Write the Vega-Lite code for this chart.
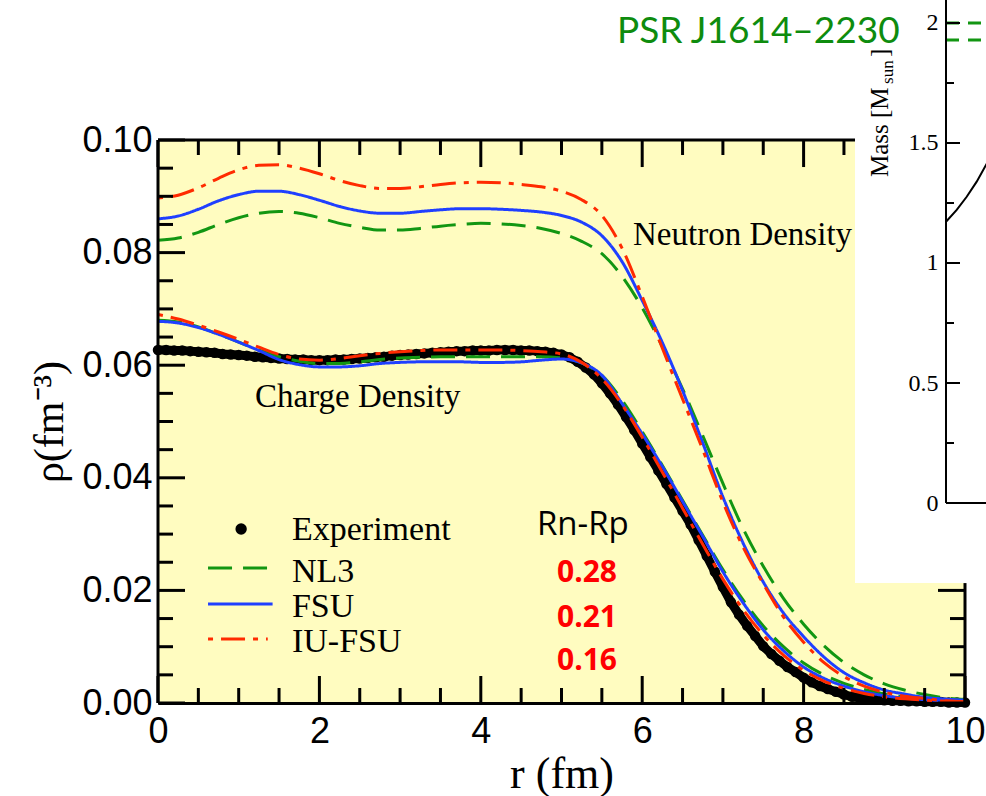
{
  "$schema": "https://vega.github.io/schema/vega-lite/v6.json",
  "width": 807,
  "height": 703,
  "autosize": {"type": "none"},
  "padding": {"left": 158, "top": 0, "right": 21, "bottom": 93},
  "background": "white",
  "config": {
    "view": {"stroke": null},
    "scale": {"continuousPadding": 0},
    "axis": {"grid": false, "labelOverlap": false, "labelFlush": false, "domainColor": "#000000", "labelColor": "#000000", "titleColor": "#000000", "zindex": 1}
  },
  "datasets": {
    "bg": [
      {"r": 0, "r2": 10, "rho": 0, "rho2": 0.0213},
      {"r": 0, "r2": 8.637, "rho": 0.0213, "rho2": 0.1}
    ],
    "frame": [
      {"r": 0, "r2": 0, "rho": 0, "rho2": 0.1},
      {"r": 0, "r2": 8.637, "rho": 0.1, "rho2": 0.1},
      {"r": 10, "r2": 10, "rho": 0, "rho2": 0.0213}
    ],
    "xMajor": [{"r":0},{"r":2},{"r":4},{"r":6},{"r":8},{"r":10}],
    "xMinor": [{"r":0.5},{"r":1},{"r":1.5},{"r":2.5},{"r":3},{"r":3.5},{"r":4.5},{"r":5},{"r":5.5},{"r":6.5},{"r":7},{"r":7.5},{"r":8.5},{"r":9},{"r":9.5}],
    "xTopMajor": [{"r":0},{"r":2},{"r":4},{"r":6},{"r":8}],
    "xTopMinor": [{"r":0.5},{"r":1},{"r":1.5},{"r":2.5},{"r":3},{"r":3.5},{"r":4.5},{"r":5},{"r":5.5},{"r":6.5},{"r":7},{"r":7.5},{"r":8.5}],
    "yMajor": [{"rho":0},{"rho":0.02},{"rho":0.04},{"rho":0.06},{"rho":0.08},{"rho":0.1}],
    "yMinor": [{"rho":0.005},{"rho":0.01},{"rho":0.015},{"rho":0.025},{"rho":0.03},{"rho":0.035},{"rho":0.045},{"rho":0.05},{"rho":0.055},{"rho":0.065},{"rho":0.07},{"rho":0.075},{"rho":0.085},{"rho":0.09},{"rho":0.095}],
    "yRightMajor": [{"rho":0},{"rho":0.02}],
    "yRightMinor": [{"rho":0.005},{"rho":0.01},{"rho":0.015}],
    "insetMajor": [{"M":0},{"M":0.5},{"M":1},{"M":1.5},{"M":2}],
    "insetMinor": [{"M":0.25},{"M":0.75},{"M":1.25},{"M":1.75}],
    "expt": [
      {"r":0.0,"rho":0.0627},{"r":0.1,"rho":0.0627},{"r":0.2,"rho":0.0626},{"r":0.3,"rho":0.0626},{"r":0.4,"rho":0.0625},{"r":0.5,"rho":0.0624},{"r":0.6,"rho":0.0623},{"r":0.7,"rho":0.0622},{"r":0.8,"rho":0.0620},{"r":0.9,"rho":0.0619},
      {"r":1.0,"rho":0.0618},{"r":1.1,"rho":0.0617},{"r":1.2,"rho":0.0615},{"r":1.3,"rho":0.0614},{"r":1.4,"rho":0.0613},{"r":1.5,"rho":0.0612},{"r":1.6,"rho":0.0611},{"r":1.7,"rho":0.0610},{"r":1.8,"rho":0.0610},{"r":1.9,"rho":0.0609},
      {"r":2.0,"rho":0.0609},{"r":2.1,"rho":0.0609},{"r":2.2,"rho":0.0610},{"r":2.3,"rho":0.0610},{"r":2.4,"rho":0.0611},{"r":2.5,"rho":0.0612},{"r":2.6,"rho":0.0613},{"r":2.7,"rho":0.0614},{"r":2.8,"rho":0.0615},{"r":2.9,"rho":0.0617},
      {"r":3.0,"rho":0.0618},{"r":3.1,"rho":0.0619},{"r":3.2,"rho":0.0620},{"r":3.3,"rho":0.0621},{"r":3.4,"rho":0.0622},{"r":3.5,"rho":0.0623},{"r":3.6,"rho":0.0624},{"r":3.7,"rho":0.0625},{"r":3.8,"rho":0.0625},{"r":3.9,"rho":0.0626},
      {"r":4.0,"rho":0.0626},{"r":4.1,"rho":0.0626},{"r":4.2,"rho":0.0627},{"r":4.3,"rho":0.0627},{"r":4.4,"rho":0.0627},{"r":4.5,"rho":0.0626},{"r":4.6,"rho":0.0626},{"r":4.7,"rho":0.0625},{"r":4.8,"rho":0.0624},{"r":4.9,"rho":0.0622},
      {"r":5.0,"rho":0.0619},{"r":5.1,"rho":0.0614},{"r":5.2,"rho":0.0606},{"r":5.3,"rho":0.0596},{"r":5.4,"rho":0.0584},{"r":5.5,"rho":0.0568},{"r":5.6,"rho":0.0550},{"r":5.7,"rho":0.0530},{"r":5.8,"rho":0.0508},{"r":5.9,"rho":0.0485},
      {"r":6.0,"rho":0.0461},{"r":6.1,"rho":0.0437},{"r":6.2,"rho":0.0413},{"r":6.3,"rho":0.0389},{"r":6.4,"rho":0.0365},{"r":6.5,"rho":0.0341},{"r":6.6,"rho":0.0317},{"r":6.7,"rho":0.0289},{"r":6.8,"rho":0.0261},{"r":6.9,"rho":0.0233},
      {"r":7.0,"rho":0.0206},{"r":7.1,"rho":0.0179},{"r":7.2,"rho":0.0157},{"r":7.3,"rho":0.0137},{"r":7.4,"rho":0.0119},{"r":7.5,"rho":0.0101},{"r":7.6,"rho":0.0087},{"r":7.7,"rho":0.0075},{"r":7.8,"rho":0.0064},{"r":7.9,"rho":0.0055},
      {"r":8.0,"rho":0.0045},{"r":8.1,"rho":0.0037},{"r":8.2,"rho":0.0030},{"r":8.3,"rho":0.0025},{"r":8.4,"rho":0.0020},{"r":8.5,"rho":0.0015},{"r":8.6,"rho":0.0011},{"r":8.7,"rho":0.0009},{"r":8.8,"rho":0.0007},{"r":8.9,"rho":0.0006},
      {"r":9.0,"rho":0.0005},{"r":9.1,"rho":0.0004},{"r":9.2,"rho":0.0004},{"r":9.3,"rho":0.0003},{"r":9.4,"rho":0.0003},{"r":9.5,"rho":0.0002},{"r":9.6,"rho":0.0002},{"r":9.7,"rho":0.0002},{"r":9.8,"rho":0.0001},{"r":9.9,"rho":0.0001},{"r":10.0,"rho":0.0001}
    ],
    "curves": [
      {"series":"NL3","part":"n","r":0,"rho":0.0822},{"series":"NL3","part":"n","r":0.25,"rho":0.0826},{"series":"NL3","part":"n","r":0.5,"rho":0.0836},{"series":"NL3","part":"n","r":0.75,"rho":0.0850},{"series":"NL3","part":"n","r":1,"rho":0.0862},{"series":"NL3","part":"n","r":1.25,"rho":0.0870},{"series":"NL3","part":"n","r":1.5,"rho":0.0873},{"series":"NL3","part":"n","r":1.75,"rho":0.0870},{"series":"NL3","part":"n","r":2,"rho":0.0862},{"series":"NL3","part":"n","r":2.25,"rho":0.0852},{"series":"NL3","part":"n","r":2.5,"rho":0.0845},{"series":"NL3","part":"n","r":2.75,"rho":0.0840},{"series":"NL3","part":"n","r":3,"rho":0.0840},{"series":"NL3","part":"n","r":3.25,"rho":0.0843},{"series":"NL3","part":"n","r":3.5,"rho":0.0847},{"series":"NL3","part":"n","r":3.75,"rho":0.0850},{"series":"NL3","part":"n","r":4,"rho":0.0852},{"series":"NL3","part":"n","r":4.25,"rho":0.0851},{"series":"NL3","part":"n","r":4.5,"rho":0.0848},{"series":"NL3","part":"n","r":4.75,"rho":0.0843},{"series":"NL3","part":"n","r":5,"rho":0.0834},{"series":"NL3","part":"n","r":5.25,"rho":0.0820},{"series":"NL3","part":"n","r":5.5,"rho":0.0798},{"series":"NL3","part":"n","r":5.75,"rho":0.0758},{"series":"NL3","part":"n","r":6,"rho":0.0702},{"series":"NL3","part":"n","r":6.25,"rho":0.0633},{"series":"NL3","part":"n","r":6.5,"rho":0.0558},{"series":"NL3","part":"n","r":6.75,"rho":0.0475},{"series":"NL3","part":"n","r":7,"rho":0.0390},{"series":"NL3","part":"n","r":7.25,"rho":0.0310},{"series":"NL3","part":"n","r":7.5,"rho":0.0243},{"series":"NL3","part":"n","r":7.75,"rho":0.0186},{"series":"NL3","part":"n","r":8,"rho":0.0140},{"series":"NL3","part":"n","r":8.25,"rho":0.0102},{"series":"NL3","part":"n","r":8.5,"rho":0.0072},{"series":"NL3","part":"n","r":8.75,"rho":0.0050},{"series":"NL3","part":"n","r":9,"rho":0.0034},{"series":"NL3","part":"n","r":9.25,"rho":0.0023},{"series":"NL3","part":"n","r":9.5,"rho":0.0015},{"series":"NL3","part":"n","r":9.75,"rho":0.0009},{"series":"NL3","part":"n","r":10,"rho":0.0006},
      {"series":"NL3","part":"c","r":0,"rho":0.0680},{"series":"NL3","part":"c","r":0.25,"rho":0.0677},{"series":"NL3","part":"c","r":0.5,"rho":0.0668},{"series":"NL3","part":"c","r":0.75,"rho":0.0655},{"series":"NL3","part":"c","r":1,"rho":0.0641},{"series":"NL3","part":"c","r":1.25,"rho":0.0627},{"series":"NL3","part":"c","r":1.5,"rho":0.0615},{"series":"NL3","part":"c","r":1.75,"rho":0.0607},{"series":"NL3","part":"c","r":2,"rho":0.0603},{"series":"NL3","part":"c","r":2.25,"rho":0.0603},{"series":"NL3","part":"c","r":2.5,"rho":0.0606},{"series":"NL3","part":"c","r":2.75,"rho":0.0610},{"series":"NL3","part":"c","r":3,"rho":0.0613},{"series":"NL3","part":"c","r":3.25,"rho":0.0614},{"series":"NL3","part":"c","r":3.5,"rho":0.0615},{"series":"NL3","part":"c","r":3.75,"rho":0.0615},{"series":"NL3","part":"c","r":4,"rho":0.0615},{"series":"NL3","part":"c","r":4.25,"rho":0.0615},{"series":"NL3","part":"c","r":4.5,"rho":0.0615},{"series":"NL3","part":"c","r":4.75,"rho":0.0615},{"series":"NL3","part":"c","r":5,"rho":0.0613},{"series":"NL3","part":"c","r":5.25,"rho":0.0604},{"series":"NL3","part":"c","r":5.5,"rho":0.0582},{"series":"NL3","part":"c","r":5.75,"rho":0.0538},{"series":"NL3","part":"c","r":6,"rho":0.0482},{"series":"NL3","part":"c","r":6.25,"rho":0.0422},{"series":"NL3","part":"c","r":6.5,"rho":0.0360},{"series":"NL3","part":"c","r":6.75,"rho":0.0298},{"series":"NL3","part":"c","r":7,"rho":0.0237},{"series":"NL3","part":"c","r":7.25,"rho":0.0183},{"series":"NL3","part":"c","r":7.5,"rho":0.0137},{"series":"NL3","part":"c","r":7.75,"rho":0.0100},{"series":"NL3","part":"c","r":8,"rho":0.0071},{"series":"NL3","part":"c","r":8.25,"rho":0.0050},{"series":"NL3","part":"c","r":8.5,"rho":0.0035},{"series":"NL3","part":"c","r":8.75,"rho":0.0024},{"series":"NL3","part":"c","r":9,"rho":0.0016},{"series":"NL3","part":"c","r":9.5,"rho":0.0007},{"series":"NL3","part":"c","r":10,"rho":0.0003},
      {"series":"FSU","part":"n","r":0,"rho":0.0860},{"series":"FSU","part":"n","r":0.25,"rho":0.0865},{"series":"FSU","part":"n","r":0.5,"rho":0.0877},{"series":"FSU","part":"n","r":0.75,"rho":0.0892},{"series":"FSU","part":"n","r":1,"rho":0.0903},{"series":"FSU","part":"n","r":1.25,"rho":0.0909},{"series":"FSU","part":"n","r":1.5,"rho":0.0909},{"series":"FSU","part":"n","r":1.75,"rho":0.0903},{"series":"FSU","part":"n","r":2,"rho":0.0893},{"series":"FSU","part":"n","r":2.25,"rho":0.0882},{"series":"FSU","part":"n","r":2.5,"rho":0.0874},{"series":"FSU","part":"n","r":2.75,"rho":0.0870},{"series":"FSU","part":"n","r":3,"rho":0.0870},{"series":"FSU","part":"n","r":3.25,"rho":0.0873},{"series":"FSU","part":"n","r":3.5,"rho":0.0876},{"series":"FSU","part":"n","r":3.75,"rho":0.0878},{"series":"FSU","part":"n","r":4,"rho":0.0878},{"series":"FSU","part":"n","r":4.25,"rho":0.0877},{"series":"FSU","part":"n","r":4.5,"rho":0.0875},{"series":"FSU","part":"n","r":4.75,"rho":0.0872},{"series":"FSU","part":"n","r":5,"rho":0.0866},{"series":"FSU","part":"n","r":5.25,"rho":0.0854},{"series":"FSU","part":"n","r":5.5,"rho":0.0830},{"series":"FSU","part":"n","r":5.75,"rho":0.0784},{"series":"FSU","part":"n","r":6,"rho":0.0715},{"series":"FSU","part":"n","r":6.25,"rho":0.0640},{"series":"FSU","part":"n","r":6.5,"rho":0.0555},{"series":"FSU","part":"n","r":6.75,"rho":0.0462},{"series":"FSU","part":"n","r":7,"rho":0.0366},{"series":"FSU","part":"n","r":7.25,"rho":0.0284},{"series":"FSU","part":"n","r":7.5,"rho":0.0215},{"series":"FSU","part":"n","r":7.75,"rho":0.0160},{"series":"FSU","part":"n","r":8,"rho":0.0118},{"series":"FSU","part":"n","r":8.25,"rho":0.0082},{"series":"FSU","part":"n","r":8.5,"rho":0.0054},{"series":"FSU","part":"n","r":8.75,"rho":0.0036},{"series":"FSU","part":"n","r":9,"rho":0.0023},{"series":"FSU","part":"n","r":9.25,"rho":0.0016},{"series":"FSU","part":"n","r":9.5,"rho":0.0010},{"series":"FSU","part":"n","r":9.75,"rho":0.0007},{"series":"FSU","part":"n","r":10,"rho":0.0005},
      {"series":"FSU","part":"c","r":0,"rho":0.0678},{"series":"FSU","part":"c","r":0.25,"rho":0.0675},{"series":"FSU","part":"c","r":0.5,"rho":0.0667},{"series":"FSU","part":"c","r":0.75,"rho":0.0655},{"series":"FSU","part":"c","r":1,"rho":0.0641},{"series":"FSU","part":"c","r":1.25,"rho":0.0626},{"series":"FSU","part":"c","r":1.5,"rho":0.0610},{"series":"FSU","part":"c","r":1.75,"rho":0.0601},{"series":"FSU","part":"c","r":2,"rho":0.0597},{"series":"FSU","part":"c","r":2.25,"rho":0.0597},{"series":"FSU","part":"c","r":2.5,"rho":0.0599},{"series":"FSU","part":"c","r":2.75,"rho":0.0603},{"series":"FSU","part":"c","r":3,"rho":0.0605},{"series":"FSU","part":"c","r":3.25,"rho":0.0606},{"series":"FSU","part":"c","r":3.5,"rho":0.0606},{"series":"FSU","part":"c","r":3.75,"rho":0.0606},{"series":"FSU","part":"c","r":4,"rho":0.0605},{"series":"FSU","part":"c","r":4.25,"rho":0.0605},{"series":"FSU","part":"c","r":4.5,"rho":0.0606},{"series":"FSU","part":"c","r":4.75,"rho":0.0609},{"series":"FSU","part":"c","r":5,"rho":0.0611},{"series":"FSU","part":"c","r":5.25,"rho":0.0604},{"series":"FSU","part":"c","r":5.5,"rho":0.0582},{"series":"FSU","part":"c","r":5.75,"rho":0.0532},{"series":"FSU","part":"c","r":6,"rho":0.0478},{"series":"FSU","part":"c","r":6.25,"rho":0.0420},{"series":"FSU","part":"c","r":6.5,"rho":0.0358},{"series":"FSU","part":"c","r":6.75,"rho":0.0296},{"series":"FSU","part":"c","r":7,"rho":0.0233},{"series":"FSU","part":"c","r":7.25,"rho":0.0178},{"series":"FSU","part":"c","r":7.5,"rho":0.0130},{"series":"FSU","part":"c","r":7.75,"rho":0.0093},{"series":"FSU","part":"c","r":8,"rho":0.0064},{"series":"FSU","part":"c","r":8.25,"rho":0.0044},{"series":"FSU","part":"c","r":8.5,"rho":0.0030},{"series":"FSU","part":"c","r":8.75,"rho":0.0020},{"series":"FSU","part":"c","r":9,"rho":0.0013},{"series":"FSU","part":"c","r":9.5,"rho":0.0006},{"series":"FSU","part":"c","r":10,"rho":0.0003},
      {"series":"IU-FSU","part":"n","r":0,"rho":0.0897},{"series":"IU-FSU","part":"n","r":0.25,"rho":0.0902},{"series":"IU-FSU","part":"n","r":0.5,"rho":0.0915},{"series":"IU-FSU","part":"n","r":0.75,"rho":0.0932},{"series":"IU-FSU","part":"n","r":1,"rho":0.0947},{"series":"IU-FSU","part":"n","r":1.25,"rho":0.0955},{"series":"IU-FSU","part":"n","r":1.5,"rho":0.0956},{"series":"IU-FSU","part":"n","r":1.75,"rho":0.0950},{"series":"IU-FSU","part":"n","r":2,"rho":0.0940},{"series":"IU-FSU","part":"n","r":2.25,"rho":0.0928},{"series":"IU-FSU","part":"n","r":2.5,"rho":0.0919},{"series":"IU-FSU","part":"n","r":2.75,"rho":0.0914},{"series":"IU-FSU","part":"n","r":3,"rho":0.0914},{"series":"IU-FSU","part":"n","r":3.25,"rho":0.0917},{"series":"IU-FSU","part":"n","r":3.5,"rho":0.0921},{"series":"IU-FSU","part":"n","r":3.75,"rho":0.0924},{"series":"IU-FSU","part":"n","r":4,"rho":0.0925},{"series":"IU-FSU","part":"n","r":4.25,"rho":0.0924},{"series":"IU-FSU","part":"n","r":4.5,"rho":0.0921},{"series":"IU-FSU","part":"n","r":4.75,"rho":0.0917},{"series":"IU-FSU","part":"n","r":5,"rho":0.0909},{"series":"IU-FSU","part":"n","r":5.25,"rho":0.0894},{"series":"IU-FSU","part":"n","r":5.5,"rho":0.0866},{"series":"IU-FSU","part":"n","r":5.75,"rho":0.0808},{"series":"IU-FSU","part":"n","r":6,"rho":0.0722},{"series":"IU-FSU","part":"n","r":6.25,"rho":0.0630},{"series":"IU-FSU","part":"n","r":6.5,"rho":0.0540},{"series":"IU-FSU","part":"n","r":6.75,"rho":0.0450},{"series":"IU-FSU","part":"n","r":7,"rho":0.0357},{"series":"IU-FSU","part":"n","r":7.25,"rho":0.0277},{"series":"IU-FSU","part":"n","r":7.5,"rho":0.0212},{"series":"IU-FSU","part":"n","r":7.75,"rho":0.0153},{"series":"IU-FSU","part":"n","r":8,"rho":0.0108},{"series":"IU-FSU","part":"n","r":8.25,"rho":0.0072},{"series":"IU-FSU","part":"n","r":8.5,"rho":0.0047},{"series":"IU-FSU","part":"n","r":8.75,"rho":0.0030},{"series":"IU-FSU","part":"n","r":9,"rho":0.0019},{"series":"IU-FSU","part":"n","r":9.25,"rho":0.0012},{"series":"IU-FSU","part":"n","r":9.5,"rho":0.0008},{"series":"IU-FSU","part":"n","r":9.75,"rho":0.0004},{"series":"IU-FSU","part":"n","r":10,"rho":0.0002},
      {"series":"IU-FSU","part":"c","r":0,"rho":0.0690},{"series":"IU-FSU","part":"c","r":0.25,"rho":0.0682},{"series":"IU-FSU","part":"c","r":0.5,"rho":0.0671},{"series":"IU-FSU","part":"c","r":0.75,"rho":0.0659},{"series":"IU-FSU","part":"c","r":1,"rho":0.0646},{"series":"IU-FSU","part":"c","r":1.25,"rho":0.0632},{"series":"IU-FSU","part":"c","r":1.5,"rho":0.0619},{"series":"IU-FSU","part":"c","r":1.75,"rho":0.0611},{"series":"IU-FSU","part":"c","r":2,"rho":0.0609},{"series":"IU-FSU","part":"c","r":2.25,"rho":0.0612},{"series":"IU-FSU","part":"c","r":2.5,"rho":0.0617},{"series":"IU-FSU","part":"c","r":2.75,"rho":0.0621},{"series":"IU-FSU","part":"c","r":3,"rho":0.0624},{"series":"IU-FSU","part":"c","r":3.25,"rho":0.0626},{"series":"IU-FSU","part":"c","r":3.5,"rho":0.0627},{"series":"IU-FSU","part":"c","r":3.75,"rho":0.0627},{"series":"IU-FSU","part":"c","r":4,"rho":0.0627},{"series":"IU-FSU","part":"c","r":4.25,"rho":0.0627},{"series":"IU-FSU","part":"c","r":4.5,"rho":0.0626},{"series":"IU-FSU","part":"c","r":4.75,"rho":0.0624},{"series":"IU-FSU","part":"c","r":5,"rho":0.0620},{"series":"IU-FSU","part":"c","r":5.25,"rho":0.0605},{"series":"IU-FSU","part":"c","r":5.5,"rho":0.0576},{"series":"IU-FSU","part":"c","r":5.75,"rho":0.0530},{"series":"IU-FSU","part":"c","r":6,"rho":0.0472},{"series":"IU-FSU","part":"c","r":6.25,"rho":0.0410},{"series":"IU-FSU","part":"c","r":6.5,"rho":0.0346},{"series":"IU-FSU","part":"c","r":6.75,"rho":0.0282},{"series":"IU-FSU","part":"c","r":7,"rho":0.0220},{"series":"IU-FSU","part":"c","r":7.25,"rho":0.0166},{"series":"IU-FSU","part":"c","r":7.5,"rho":0.0121},{"series":"IU-FSU","part":"c","r":7.75,"rho":0.0085},{"series":"IU-FSU","part":"c","r":8,"rho":0.0058},{"series":"IU-FSU","part":"c","r":8.25,"rho":0.0039},{"series":"IU-FSU","part":"c","r":8.5,"rho":0.0026},{"series":"IU-FSU","part":"c","r":8.75,"rho":0.0017},{"series":"IU-FSU","part":"c","r":9,"rho":0.0011},{"series":"IU-FSU","part":"c","r":9.5,"rho":0.0005},{"series":"IU-FSU","part":"c","r":10,"rho":0.0002}
    ],
    "legLines": [
      {"series":"NL3","r":0.62,"rho":0.02398},{"series":"NL3","r":1.39,"rho":0.02398},
      {"series":"FSU","r":0.62,"rho":0.01758},{"series":"FSU","r":1.42,"rho":0.01758},
      {"series":"IU-FSU","r":0.62,"rho":0.01137},{"series":"IU-FSU","r":1.36,"rho":0.01137}
    ],
    "legDot": [{"r": 1.03, "rho": 0.0309}],
    "labelsRegion": [
      {"r": 5.886, "rho": 0.08135, "label": "Neutron Density"},
      {"r": 1.202, "rho": 0.05258, "label": "Charge Density"}
    ],
    "labelsLegend": [
      {"r": 1.66, "rho": 0.02895, "label": "Experiment"},
      {"r": 1.66, "rho": 0.02149, "label": "NL3"},
      {"r": 1.66, "rho": 0.01528, "label": "FSU"},
      {"r": 1.66, "rho": 0.00906, "label": "IU-FSU"}
    ],
    "labelRnRp": [{"r": 4.696, "rho": 0.02984, "label": "Rn-Rp"}],
    "labelsSkin": [
      {"r": 5.316, "rho": 0.02149, "label": "0.28"},
      {"r": 5.316, "rho": 0.0135, "label": "0.21"},
      {"r": 5.316, "rho": 0.00586, "label": "0.16"}
    ],
    "mrCurve": [
      {"R": 8.0, "M": 1.172}, {"R": 8.107, "M": 1.221}, {"R": 8.207, "M": 1.276}, {"R": 8.307, "M": 1.339}, {"R": 8.4, "M": 1.408}, {"R": 8.45, "M": 1.445}
    ],
    "psr": [
      {"R": 8.0, "R2": 8.45, "M": 2.0},
      {"R": 8.0, "R2": 8.45, "M": 1.929}
    ],
    "insetFrame": [
      {"R": 8.0, "R2": 8.0, "M": 0, "M2": 2.09583},
      {"R": 8.0, "R2": 8.45, "M": 0, "M2": 0}
    ],
    "psrLabel": [{"R": 4.71, "M": 1.9167, "label": "PSR J1614–2230"}],
    "massLabel": [
      {"R": 7.42, "M": 1.3583, "label": "Mass [M"},
      {"R": 7.42, "M": 1.858, "label": "]"}
    ],
    "massSub": [{"R": 7.47, "M": 1.746, "label": "sun"}]
  },
  "layer": [
    {
      "resolve": {"axis": {"x": "independent", "y": "independent"}},
      "layer": [
        {
          "data": {"name": "bg"},
          "mark": {"type": "rect", "fill": "#fffcc0", "stroke": null},
          "encoding": {
            "x": {"field": "r", "type": "quantitative", "scale": {"domain": [0, 10], "nice": false, "zero": false, "padding": 0},
              "axis": {"orient": "bottom", "values": [0, 2, 4, 6, 8, 10], "format": "d", "ticks": false, "tickSize": 0, "domain": true, "domainWidth": 3, "labelFont": "Liberation Sans", "labelFontSize": 36, "labelPadding": 39, "labelBaseline": "alphabetic", "labelAlign": "center", "title": "r (fm)", "titleFont": "Liberation Serif", "titleFontSize": 44, "titleFontWeight": "normal", "titleX": 403.5, "titleY": 84, "titleBaseline": "alphabetic", "titleAlign": "center", "zindex": 2}},
            "x2": {"field": "r2"},
            "y": {"field": "rho", "type": "quantitative", "scale": {"domain": [0, 0.12487], "nice": false, "zero": false, "padding": 0},
              "axis": {"orient": "left", "values": [0, 0.02, 0.04, 0.06, 0.08, 0.1], "format": ".2f", "ticks": false, "tickSize": 0, "domain": false, "labelFont": "Liberation Sans", "labelFontSize": 36, "labelPadding": 6, "labelBaseline": "middle", "labelAlign": "right", "title": "ρ(fm⁻³)", "titleFont": "Liberation Serif", "titleFontSize": 42, "titleFontWeight": "normal", "titleX": -96, "titleY": 421.5, "titleAngle": 270, "titleBaseline": "alphabetic", "titleAlign": "center", "zindex": 2}},
            "y2": {"field": "rho2"}
          }
        },
        {
          "data": {"name": "expt"},
          "mark": {"type": "line", "color": "black", "strokeWidth": 9},
          "encoding": {
            "x": {"field": "r", "type": "quantitative", "scale": {"domain": [0, 10], "nice": false, "zero": false, "padding": 0}, "axis": null},
            "y": {"field": "rho", "type": "quantitative", "scale": {"domain": [0, 0.12487], "nice": false, "zero": false, "padding": 0}, "axis": null}
          }
        },
        {
          "data": {"name": "expt"},
          "mark": {"type": "point", "filled": true, "color": "black", "size": 110, "opacity": 1},
          "encoding": {
            "x": {"field": "r", "type": "quantitative", "scale": {"domain": [0, 10], "nice": false, "zero": false, "padding": 0}, "axis": null},
            "y": {"field": "rho", "type": "quantitative", "scale": {"domain": [0, 0.12487], "nice": false, "zero": false, "padding": 0}, "axis": null}
          }
        },
        {
          "data": {"name": "curves"},
          "mark": {"type": "line", "strokeWidth": 3, "interpolate": "monotone"},
          "encoding": {
            "x": {"field": "r", "type": "quantitative", "scale": {"domain": [0, 10], "nice": false, "zero": false, "padding": 0}, "axis": null},
            "y": {"field": "rho", "type": "quantitative", "scale": {"domain": [0, 0.12487], "nice": false, "zero": false, "padding": 0}, "axis": null},
            "color": {"field": "series", "type": "nominal", "scale": {"domain": ["NL3", "FSU", "IU-FSU"], "range": ["#129612", "#1f3fff", "#ff2a00"]}, "legend": null},
            "strokeDash": {"field": "series", "type": "nominal", "scale": {"domain": ["NL3", "FSU", "IU-FSU"], "range": [[24, 11], [1, 0], [5, 8, 24, 8]]}, "legend": null},
            "detail": {"field": "part", "type": "nominal"}
          }
        },
        {
          "data": {"name": "legLines"},
          "mark": {"type": "line", "strokeWidth": 3},
          "encoding": {
            "x": {"field": "r", "type": "quantitative", "scale": {"domain": [0, 10], "nice": false, "zero": false, "padding": 0}, "axis": null},
            "y": {"field": "rho", "type": "quantitative", "scale": {"domain": [0, 0.12487], "nice": false, "zero": false, "padding": 0}, "axis": null},
            "color": {"field": "series", "type": "nominal", "scale": {"domain": ["NL3", "FSU", "IU-FSU"], "range": ["#129612", "#1f3fff", "#ff2a00"]}, "legend": null},
            "strokeDash": {"field": "series", "type": "nominal", "scale": {"domain": ["NL3", "FSU", "IU-FSU"], "range": [[24, 11], [1, 0], [5, 8, 24, 8]]}, "legend": null}
          }
        },
        {
          "data": {"name": "legDot"},
          "mark": {"type": "point", "filled": true, "color": "black", "size": 130, "opacity": 1},
          "encoding": {
            "x": {"field": "r", "type": "quantitative", "scale": {"domain": [0, 10], "nice": false, "zero": false, "padding": 0}, "axis": null},
            "y": {"field": "rho", "type": "quantitative", "scale": {"domain": [0, 0.12487], "nice": false, "zero": false, "padding": 0}, "axis": null}
          }
        },
        {
          "data": {"name": "frame"},
          "mark": {"type": "rule", "color": "black", "strokeWidth": 3},
          "encoding": {
            "x": {"field": "r", "type": "quantitative", "scale": {"domain": [0, 10], "nice": false, "zero": false, "padding": 0}, "axis": null},
            "x2": {"field": "r2"},
            "y": {"field": "rho", "type": "quantitative", "scale": {"domain": [0, 0.12487], "nice": false, "zero": false, "padding": 0}, "axis": null},
            "y2": {"field": "rho2"}
          }
        },
        {
          "data": {"name": "xMajor"},
          "mark": {"type": "bar", "color": "black", "width": 3, "orient": "vertical"},
          "encoding": {
            "x": {"field": "r", "type": "quantitative", "scale": {"domain": [0, 10], "nice": false, "zero": false, "padding": 0}, "axis": null},
            "y": {"datum": 0, "type": "quantitative", "scale": {"domain": [0, 0.12487], "nice": false, "zero": false, "padding": 0}, "axis": null},
            "y2": {"datum": 0.0048}
          }
        },
        {
          "data": {"name": "xMinor"},
          "mark": {"type": "bar", "color": "black", "width": 3, "orient": "vertical"},
          "encoding": {
            "x": {"field": "r", "type": "quantitative", "scale": {"domain": [0, 10], "nice": false, "zero": false, "padding": 0}, "axis": null},
            "y": {"datum": 0, "type": "quantitative", "scale": {"domain": [0, 0.12487], "nice": false, "zero": false, "padding": 0}, "axis": null},
            "y2": {"datum": 0.00266}
          }
        },
        {
          "data": {"name": "xTopMajor"},
          "mark": {"type": "bar", "color": "black", "width": 3, "orient": "vertical"},
          "encoding": {
            "x": {"field": "r", "type": "quantitative", "scale": {"domain": [0, 10], "nice": false, "zero": false, "padding": 0}, "axis": null},
            "y": {"datum": 0.0952, "type": "quantitative", "scale": {"domain": [0, 0.12487], "nice": false, "zero": false, "padding": 0}, "axis": null},
            "y2": {"datum": 0.1}
          }
        },
        {
          "data": {"name": "xTopMinor"},
          "mark": {"type": "bar", "color": "black", "width": 3, "orient": "vertical"},
          "encoding": {
            "x": {"field": "r", "type": "quantitative", "scale": {"domain": [0, 10], "nice": false, "zero": false, "padding": 0}, "axis": null},
            "y": {"datum": 0.09734, "type": "quantitative", "scale": {"domain": [0, 0.12487], "nice": false, "zero": false, "padding": 0}, "axis": null},
            "y2": {"datum": 0.1}
          }
        },
        {
          "data": {"name": "yMajor"},
          "mark": {"type": "bar", "color": "black", "height": 3, "orient": "horizontal"},
          "encoding": {
            "x": {"datum": 0, "type": "quantitative", "scale": {"domain": [0, 10], "nice": false, "zero": false, "padding": 0}, "axis": null},
            "x2": {"datum": 0.3346},
            "y": {"field": "rho", "type": "quantitative", "scale": {"domain": [0, 0.12487], "nice": false, "zero": false, "padding": 0}, "axis": null}
          }
        },
        {
          "data": {"name": "yMinor"},
          "mark": {"type": "bar", "color": "black", "height": 3, "orient": "horizontal"},
          "encoding": {
            "x": {"datum": 0, "type": "quantitative", "scale": {"domain": [0, 10], "nice": false, "zero": false, "padding": 0}, "axis": null},
            "x2": {"datum": 0.1859},
            "y": {"field": "rho", "type": "quantitative", "scale": {"domain": [0, 0.12487], "nice": false, "zero": false, "padding": 0}, "axis": null}
          }
        },
        {
          "data": {"name": "yRightMajor"},
          "mark": {"type": "bar", "color": "black", "height": 3, "orient": "horizontal"},
          "encoding": {
            "x": {"datum": 9.6654, "type": "quantitative", "scale": {"domain": [0, 10], "nice": false, "zero": false, "padding": 0}, "axis": null},
            "x2": {"datum": 10},
            "y": {"field": "rho", "type": "quantitative", "scale": {"domain": [0, 0.12487], "nice": false, "zero": false, "padding": 0}, "axis": null}
          }
        },
        {
          "data": {"name": "yRightMinor"},
          "mark": {"type": "bar", "color": "black", "height": 3, "orient": "horizontal"},
          "encoding": {
            "x": {"datum": 9.8141, "type": "quantitative", "scale": {"domain": [0, 10], "nice": false, "zero": false, "padding": 0}, "axis": null},
            "x2": {"datum": 10},
            "y": {"field": "rho", "type": "quantitative", "scale": {"domain": [0, 0.12487], "nice": false, "zero": false, "padding": 0}, "axis": null}
          }
        },
        {
          "data": {"name": "labelsRegion"},
          "mark": {"type": "text", "font": "Liberation Serif", "fontSize": 33, "align": "left", "baseline": "alphabetic", "color": "black"},
          "encoding": {
            "x": {"field": "r", "type": "quantitative", "scale": {"domain": [0, 10], "nice": false, "zero": false, "padding": 0}, "axis": null},
            "y": {"field": "rho", "type": "quantitative", "scale": {"domain": [0, 0.12487], "nice": false, "zero": false, "padding": 0}, "axis": null},
            "text": {"field": "label"}
          }
        },
        {
          "data": {"name": "labelsLegend"},
          "mark": {"type": "text", "font": "Liberation Serif", "fontSize": 34, "align": "left", "baseline": "alphabetic", "color": "black"},
          "encoding": {
            "x": {"field": "r", "type": "quantitative", "scale": {"domain": [0, 10], "nice": false, "zero": false, "padding": 0}, "axis": null},
            "y": {"field": "rho", "type": "quantitative", "scale": {"domain": [0, 0.12487], "nice": false, "zero": false, "padding": 0}, "axis": null},
            "text": {"field": "label"}
          }
        },
        {
          "data": {"name": "labelRnRp"},
          "mark": {"type": "text", "font": "Open Sans", "fontSize": 33, "align": "left", "baseline": "alphabetic", "color": "black"},
          "encoding": {
            "x": {"field": "r", "type": "quantitative", "scale": {"domain": [0, 10], "nice": false, "zero": false, "padding": 0}, "axis": null},
            "y": {"field": "rho", "type": "quantitative", "scale": {"domain": [0, 0.12487], "nice": false, "zero": false, "padding": 0}, "axis": null},
            "text": {"field": "label"}
          }
        },
        {
          "data": {"name": "labelsSkin"},
          "mark": {"type": "text", "font": "Open Sans", "fontSize": 30, "fontWeight": "bold", "align": "center", "baseline": "alphabetic", "color": "#ff0000"},
          "encoding": {
            "x": {"field": "r", "type": "quantitative", "scale": {"domain": [0, 10], "nice": false, "zero": false, "padding": 0}, "axis": null},
            "y": {"field": "rho", "type": "quantitative", "scale": {"domain": [0, 0.12487], "nice": false, "zero": false, "padding": 0}, "axis": null},
            "text": {"field": "label"}
          }
        }
      ]
    },
    {
      "resolve": {"axis": {"y": "independent"}},
      "layer": [
        {
          "data": {"name": "mrCurve"},
          "mark": {"type": "line", "color": "black", "strokeWidth": 2},
          "encoding": {
            "x": {"field": "R", "type": "quantitative", "scale": {"domain": [0.12, 8.19], "nice": false, "zero": false, "padding": 0}, "axis": null},
            "y": {"field": "M", "type": "quantitative", "scale": {"domain": [-0.83333, 2.09583], "nice": false, "zero": false, "padding": 0},
              "axis": {"orient": "left", "offset": -788, "values": [0, 0.5, 1, 1.5, 2], "format": "~g", "ticks": false, "tickSize": 0, "domain": false, "labelFont": "Liberation Serif", "labelFontSize": 24, "labelPadding": 8, "labelBaseline": "middle", "labelAlign": "right", "title": null, "zindex": 2}}
          }
        },
        {
          "data": {"name": "psr"},
          "mark": {"type": "rule", "color": "#129612", "strokeWidth": 3, "strokeDash": [13, 9]},
          "encoding": {
            "x": {"field": "R", "type": "quantitative", "scale": {"domain": [0.12, 8.19], "nice": false, "zero": false, "padding": 0}, "axis": null},
            "x2": {"field": "R2"},
            "y": {"field": "M", "type": "quantitative", "scale": {"domain": [-0.83333, 2.09583], "nice": false, "zero": false, "padding": 0}, "axis": null}
          }
        },
        {
          "data": {"name": "insetFrame"},
          "mark": {"type": "rule", "color": "black", "strokeWidth": 2},
          "encoding": {
            "x": {"field": "R", "type": "quantitative", "scale": {"domain": [0.12, 8.19], "nice": false, "zero": false, "padding": 0}, "axis": null},
            "x2": {"field": "R2"},
            "y": {"field": "M", "type": "quantitative", "scale": {"domain": [-0.83333, 2.09583], "nice": false, "zero": false, "padding": 0}, "axis": null},
            "y2": {"field": "M2"}
          }
        },
        {
          "data": {"name": "insetMajor"},
          "mark": {"type": "bar", "color": "black", "height": 2, "orient": "horizontal"},
          "encoding": {
            "x": {"datum": 8.0, "type": "quantitative", "scale": {"domain": [0.12, 8.19], "nice": false, "zero": false, "padding": 0}, "axis": null},
            "x2": {"datum": 8.14},
            "y": {"field": "M", "type": "quantitative", "scale": {"domain": [-0.83333, 2.09583], "nice": false, "zero": false, "padding": 0}, "axis": null}
          }
        },
        {
          "data": {"name": "insetMinor"},
          "mark": {"type": "bar", "color": "black", "height": 2, "orient": "horizontal"},
          "encoding": {
            "x": {"datum": 8.0, "type": "quantitative", "scale": {"domain": [0.12, 8.19], "nice": false, "zero": false, "padding": 0}, "axis": null},
            "x2": {"datum": 8.08},
            "y": {"field": "M", "type": "quantitative", "scale": {"domain": [-0.83333, 2.09583], "nice": false, "zero": false, "padding": 0}, "axis": null}
          }
        },
        {
          "data": {"name": "psrLabel"},
          "mark": {"type": "text", "font": "Lato", "fontSize": 37, "align": "left", "baseline": "alphabetic", "color": "#0e8c0e"},
          "encoding": {
            "x": {"field": "R", "type": "quantitative", "scale": {"domain": [0.12, 8.19], "nice": false, "zero": false, "padding": 0}, "axis": null},
            "y": {"field": "M", "type": "quantitative", "scale": {"domain": [-0.83333, 2.09583], "nice": false, "zero": false, "padding": 0}, "axis": null},
            "text": {"field": "label"}
          }
        },
        {
          "data": {"name": "massLabel"},
          "mark": {"type": "text", "font": "Liberation Serif", "fontSize": 25, "align": "left", "baseline": "alphabetic", "angle": 270, "color": "black"},
          "encoding": {
            "x": {"field": "R", "type": "quantitative", "scale": {"domain": [0.12, 8.19], "nice": false, "zero": false, "padding": 0}, "axis": null},
            "y": {"field": "M", "type": "quantitative", "scale": {"domain": [-0.83333, 2.09583], "nice": false, "zero": false, "padding": 0}, "axis": null},
            "text": {"field": "label"}
          }
        },
        {
          "data": {"name": "massSub"},
          "mark": {"type": "text", "font": "Liberation Serif", "fontSize": 17, "align": "left", "baseline": "alphabetic", "angle": 270, "color": "black"},
          "encoding": {
            "x": {"field": "R", "type": "quantitative", "scale": {"domain": [0.12, 8.19], "nice": false, "zero": false, "padding": 0}, "axis": null},
            "y": {"field": "M", "type": "quantitative", "scale": {"domain": [-0.83333, 2.09583], "nice": false, "zero": false, "padding": 0}, "axis": null},
            "text": {"field": "label"}
          }
        }
      ]
    }
  ],
  "resolve": {"scale": {"x": "independent", "y": "independent"}, "axis": {"x": "independent", "y": "independent"}}
}
